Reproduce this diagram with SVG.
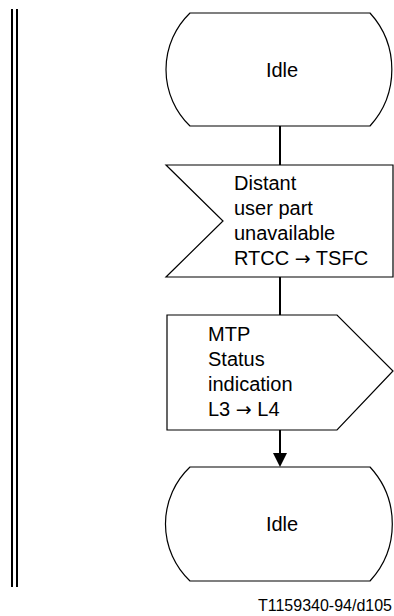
<svg xmlns="http://www.w3.org/2000/svg" width="394" height="616" viewBox="0 0 394 616">
  <style>
    .shape { fill: #ffffff; stroke: #000000; stroke-width: 1.2; }
    .conn { stroke: #000000; stroke-width: 2; fill: none; }
    .txt { font-family: "Liberation Sans", Arial, sans-serif; font-size: 20px; fill: #000000; }
    .arr { font-family: "DejaVu Sans", sans-serif; font-size: 19px; }
    .cap { font-family: "Liberation Sans", Arial, sans-serif; font-size: 16px; fill: #000000; }
    .bar { stroke: #000000; stroke-width: 2; }
  </style>
  <rect width="394" height="616" fill="#ffffff"/>
  <g id="border">
    <line class="bar" x1="12" y1="9" x2="12" y2="587"/>
    <line class="bar" x1="17" y1="9" x2="17" y2="587"/>
  </g>
  <g id="connectors">
    <line class="conn" x1="280" y1="126" x2="280" y2="165"/>
    <line class="conn" x1="280" y1="277" x2="280" y2="315"/>
    <line class="conn" x1="280" y1="430" x2="280" y2="454"/>
    <path d="M273,453 L287,453 L280,467 Z" fill="#000000"/>
  </g>
  <g id="idle1">
    <path class="shape" d="M190,13 H370 A84,84 0 0 1 370,126 H190 A78.5,78.5 0 0 1 190,13 Z"/>
    <text class="txt" x="282" y="77" text-anchor="middle">Idle</text>
  </g>
  <g id="input">
    <polygon class="shape" points="166,165 393,165 393,277 166,277 223,221"/>
    <text class="txt" x="234" y="190">Distant</text>
    <text class="txt" x="234" y="215">user part</text>
    <text class="txt" x="234" y="240">unavailable</text>
    <text class="txt" x="234" y="265">RTCC <tspan class="arr">→</tspan> TSFC</text>
  </g>
  <g id="output">
    <polygon class="shape" points="167,315 337,315 393,371 337,430 167,430"/>
    <text class="txt" x="208" y="341">MTP</text>
    <text class="txt" x="208" y="366">Status</text>
    <text class="txt" x="208" y="391">indication</text>
    <text class="txt" x="208" y="416">L3 <tspan class="arr">→</tspan> L4</text>
  </g>
  <g id="idle2">
    <path class="shape" d="M190,467 H370 A84,84 0 0 1 370,581 H190 A78.5,78.5 0 0 1 190,467 Z"/>
    <text class="txt" x="282" y="531" text-anchor="middle">Idle</text>
  </g>
  <text class="cap" x="392" y="611" text-anchor="end">T1159340-94/d105</text>
</svg>
